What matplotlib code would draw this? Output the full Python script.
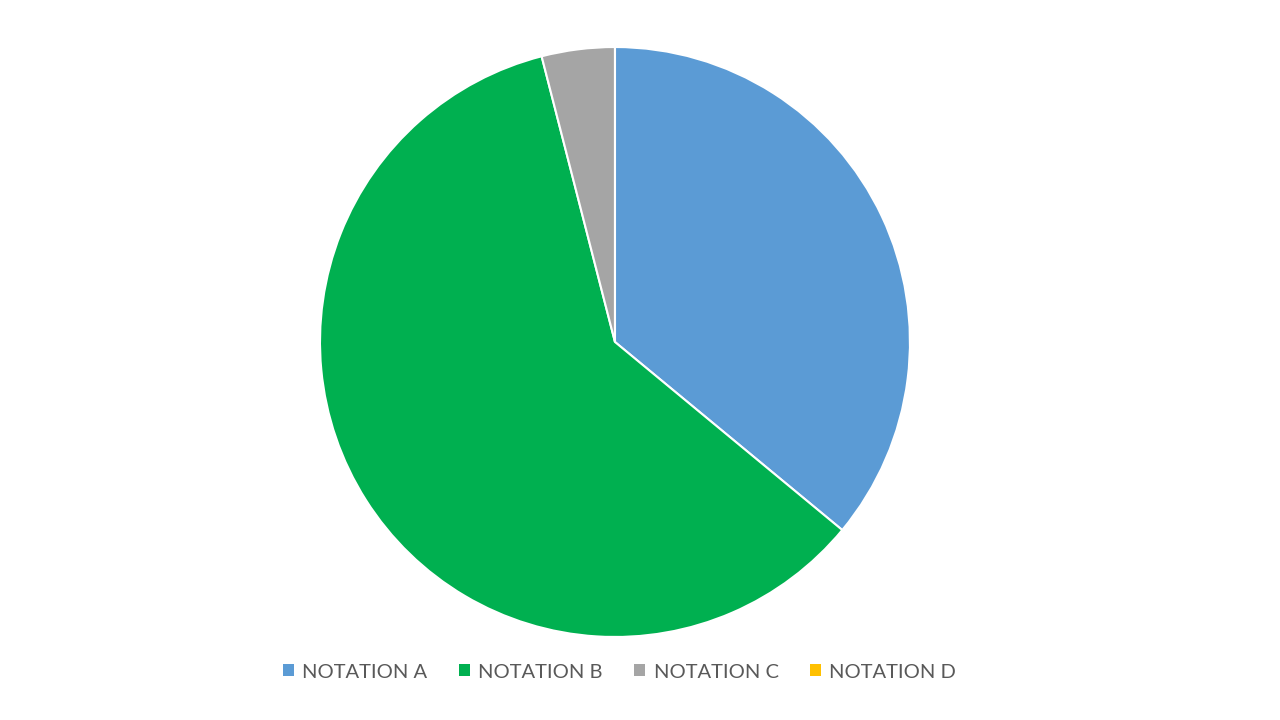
import matplotlib
matplotlib.use("Agg")
import matplotlib.pyplot as plt
from matplotlib.patches import Patch

labels = ["NOTATION A", "NOTATION B", "NOTATION C", "NOTATION D"]
values = [36, 60, 4, 0]
colors = ["#5B9BD5", "#00B050", "#A5A5A5", "#FFC000"]

plt.rcParams['font.family'] = ['Lato', 'DejaVu Sans']

fig = plt.figure(figsize=(12.8, 7.2), dpi=100)
ax = fig.add_axes([0.25, 0.1153, 0.4609, 0.8194])
ax.pie(values, colors=colors, startangle=90, counterclock=False,
       wedgeprops=dict(edgecolor="white", linewidth=1.5))
ax.set_xlim(-1.0, 1.0)
ax.set_ylim(-1.0, 1.0)
ax.set_aspect("equal")
ax.axis("off")

handles = [Patch(facecolor=c, edgecolor="none") for c in colors]
fig.legend(handles, labels, loc="center", bbox_to_anchor=(0.484, 1 - 672 / 720),
           ncol=4, frameon=False, fontsize=14.5, labelcolor="#595959",
           handlelength=0.55, handleheight=0.55, handletextpad=0.42,
           columnspacing=1.55)

fig.savefig("out.png", dpi=100)
